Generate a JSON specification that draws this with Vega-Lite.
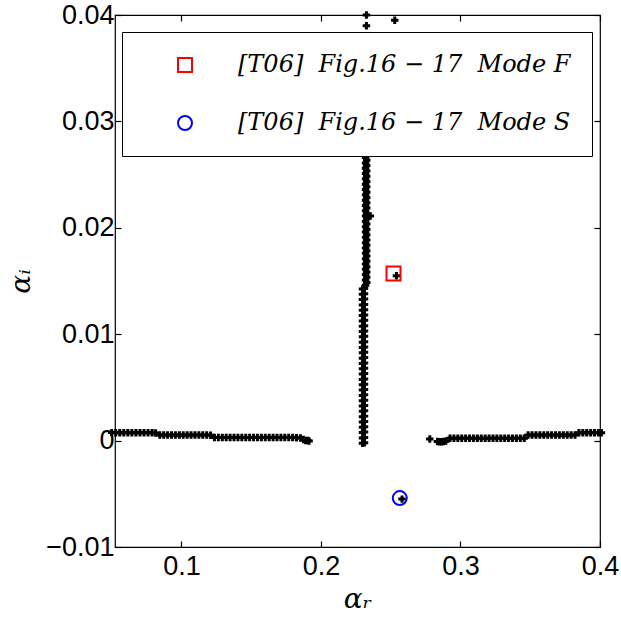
{
  "$schema": "https://vega.github.io/schema/vega-lite/v6.json",
  "width": 485,
  "height": 532,
  "autosize": {"type": "none"},
  "padding": {"left": 115, "top": 15, "right": 21, "bottom": 74},
  "background": "white",
  "config": {
    "view": {"stroke": "black", "strokeWidth": 1.2},
    "axis": {"grid": false, "domain": false, "tickColor": "black", "labelColor": "black", "titleColor": "black"}
  },
  "data": {
    "values": [
      {"ar": 0.0500, "ai": 0.00075, "s": "scan"},
      {"ar": 0.0529, "ai": 0.00073, "s": "scan"},
      {"ar": 0.0558, "ai": 0.00073, "s": "scan"},
      {"ar": 0.0587, "ai": 0.00073, "s": "scan"},
      {"ar": 0.0616, "ai": 0.00073, "s": "scan"},
      {"ar": 0.0645, "ai": 0.00073, "s": "scan"},
      {"ar": 0.0674, "ai": 0.00073, "s": "scan"},
      {"ar": 0.0703, "ai": 0.00073, "s": "scan"},
      {"ar": 0.0732, "ai": 0.00073, "s": "scan"},
      {"ar": 0.0761, "ai": 0.00073, "s": "scan"},
      {"ar": 0.0790, "ai": 0.00073, "s": "scan"},
      {"ar": 0.0815, "ai": 0.00072, "s": "scan"},
      {"ar": 0.0845, "ai": 0.00052, "s": "scan"},
      {"ar": 0.0873, "ai": 0.00052, "s": "scan"},
      {"ar": 0.0901, "ai": 0.00052, "s": "scan"},
      {"ar": 0.0929, "ai": 0.00052, "s": "scan"},
      {"ar": 0.0957, "ai": 0.00052, "s": "scan"},
      {"ar": 0.0985, "ai": 0.00052, "s": "scan"},
      {"ar": 0.1013, "ai": 0.00052, "s": "scan"},
      {"ar": 0.1041, "ai": 0.00052, "s": "scan"},
      {"ar": 0.1069, "ai": 0.00052, "s": "scan"},
      {"ar": 0.1097, "ai": 0.00052, "s": "scan"},
      {"ar": 0.1125, "ai": 0.00052, "s": "scan"},
      {"ar": 0.1153, "ai": 0.00052, "s": "scan"},
      {"ar": 0.1181, "ai": 0.00052, "s": "scan"},
      {"ar": 0.1209, "ai": 0.00051, "s": "scan"},
      {"ar": 0.1237, "ai": 0.00030, "s": "scan"},
      {"ar": 0.1265, "ai": 0.00030, "s": "scan"},
      {"ar": 0.1293, "ai": 0.00030, "s": "scan"},
      {"ar": 0.1321, "ai": 0.00030, "s": "scan"},
      {"ar": 0.1349, "ai": 0.00030, "s": "scan"},
      {"ar": 0.1377, "ai": 0.00030, "s": "scan"},
      {"ar": 0.1405, "ai": 0.00030, "s": "scan"},
      {"ar": 0.1433, "ai": 0.00030, "s": "scan"},
      {"ar": 0.1461, "ai": 0.00030, "s": "scan"},
      {"ar": 0.1489, "ai": 0.00030, "s": "scan"},
      {"ar": 0.1517, "ai": 0.00030, "s": "scan"},
      {"ar": 0.1545, "ai": 0.00030, "s": "scan"},
      {"ar": 0.1573, "ai": 0.00030, "s": "scan"},
      {"ar": 0.1601, "ai": 0.00030, "s": "scan"},
      {"ar": 0.1629, "ai": 0.00030, "s": "scan"},
      {"ar": 0.1657, "ai": 0.00030, "s": "scan"},
      {"ar": 0.1685, "ai": 0.00030, "s": "scan"},
      {"ar": 0.1713, "ai": 0.00030, "s": "scan"},
      {"ar": 0.1741, "ai": 0.00030, "s": "scan"},
      {"ar": 0.1769, "ai": 0.00029, "s": "scan"},
      {"ar": 0.1797, "ai": 0.00029, "s": "scan"},
      {"ar": 0.1825, "ai": 0.00027, "s": "scan"},
      {"ar": 0.1853, "ai": 0.00025, "s": "scan"},
      {"ar": 0.1875, "ai": 0.00010, "s": "scan"},
      {"ar": 0.1890, "ai": 0.00002, "s": "scan"},
      {"ar": 0.1905, "ai": 0.00000, "s": "scan"},
      {"ar": 0.1915, "ai": -0.00003, "s": "scan"},
      {"ar": 0.2780, "ai": 0.00014, "s": "scan"},
      {"ar": 0.2835, "ai": -0.00008, "s": "scan"},
      {"ar": 0.2850, "ai": -0.00010, "s": "scan"},
      {"ar": 0.2865, "ai": -0.00010, "s": "scan"},
      {"ar": 0.2880, "ai": -0.00009, "s": "scan"},
      {"ar": 0.2895, "ai": -0.00005, "s": "scan"},
      {"ar": 0.2925, "ai": 0.00021, "s": "scan"},
      {"ar": 0.2953, "ai": 0.00021, "s": "scan"},
      {"ar": 0.2981, "ai": 0.00021, "s": "scan"},
      {"ar": 0.3009, "ai": 0.00021, "s": "scan"},
      {"ar": 0.3037, "ai": 0.00021, "s": "scan"},
      {"ar": 0.3065, "ai": 0.00021, "s": "scan"},
      {"ar": 0.3093, "ai": 0.00021, "s": "scan"},
      {"ar": 0.3121, "ai": 0.00021, "s": "scan"},
      {"ar": 0.3149, "ai": 0.00021, "s": "scan"},
      {"ar": 0.3177, "ai": 0.00021, "s": "scan"},
      {"ar": 0.3205, "ai": 0.00021, "s": "scan"},
      {"ar": 0.3233, "ai": 0.00021, "s": "scan"},
      {"ar": 0.3261, "ai": 0.00021, "s": "scan"},
      {"ar": 0.3289, "ai": 0.00021, "s": "scan"},
      {"ar": 0.3317, "ai": 0.00021, "s": "scan"},
      {"ar": 0.3345, "ai": 0.00021, "s": "scan"},
      {"ar": 0.3373, "ai": 0.00021, "s": "scan"},
      {"ar": 0.3401, "ai": 0.00021, "s": "scan"},
      {"ar": 0.3429, "ai": 0.00021, "s": "scan"},
      {"ar": 0.3457, "ai": 0.00022, "s": "scan"},
      {"ar": 0.3485, "ai": 0.00052, "s": "scan"},
      {"ar": 0.3513, "ai": 0.00052, "s": "scan"},
      {"ar": 0.3541, "ai": 0.00052, "s": "scan"},
      {"ar": 0.3569, "ai": 0.00052, "s": "scan"},
      {"ar": 0.3597, "ai": 0.00052, "s": "scan"},
      {"ar": 0.3625, "ai": 0.00052, "s": "scan"},
      {"ar": 0.3653, "ai": 0.00052, "s": "scan"},
      {"ar": 0.3681, "ai": 0.00052, "s": "scan"},
      {"ar": 0.3709, "ai": 0.00052, "s": "scan"},
      {"ar": 0.3737, "ai": 0.00052, "s": "scan"},
      {"ar": 0.3765, "ai": 0.00052, "s": "scan"},
      {"ar": 0.3793, "ai": 0.00052, "s": "scan"},
      {"ar": 0.3821, "ai": 0.00053, "s": "scan"},
      {"ar": 0.3849, "ai": 0.00073, "s": "scan"},
      {"ar": 0.3877, "ai": 0.00073, "s": "scan"},
      {"ar": 0.3905, "ai": 0.00073, "s": "scan"},
      {"ar": 0.3933, "ai": 0.00073, "s": "scan"},
      {"ar": 0.3961, "ai": 0.00073, "s": "scan"},
      {"ar": 0.3989, "ai": 0.00073, "s": "scan"},
      {"ar": 0.4010, "ai": 0.00074, "s": "scan"},
      {"ar": 0.2298, "ai": -0.00025, "s": "scan"},
      {"ar": 0.2298, "ai": 0.00025, "s": "scan"},
      {"ar": 0.2298, "ai": 0.00075, "s": "scan"},
      {"ar": 0.2298, "ai": 0.00125, "s": "scan"},
      {"ar": 0.2298, "ai": 0.00175, "s": "scan"},
      {"ar": 0.2298, "ai": 0.00225, "s": "scan"},
      {"ar": 0.2298, "ai": 0.00275, "s": "scan"},
      {"ar": 0.2298, "ai": 0.00325, "s": "scan"},
      {"ar": 0.2298, "ai": 0.00375, "s": "scan"},
      {"ar": 0.2298, "ai": 0.00425, "s": "scan"},
      {"ar": 0.2298, "ai": 0.00475, "s": "scan"},
      {"ar": 0.2298, "ai": 0.00525, "s": "scan"},
      {"ar": 0.2298, "ai": 0.00575, "s": "scan"},
      {"ar": 0.2298, "ai": 0.00625, "s": "scan"},
      {"ar": 0.2298, "ai": 0.00675, "s": "scan"},
      {"ar": 0.2298, "ai": 0.00725, "s": "scan"},
      {"ar": 0.2298, "ai": 0.00775, "s": "scan"},
      {"ar": 0.2298, "ai": 0.00825, "s": "scan"},
      {"ar": 0.2298, "ai": 0.00875, "s": "scan"},
      {"ar": 0.2298, "ai": 0.00925, "s": "scan"},
      {"ar": 0.2298, "ai": 0.00975, "s": "scan"},
      {"ar": 0.2298, "ai": 0.01025, "s": "scan"},
      {"ar": 0.2298, "ai": 0.01075, "s": "scan"},
      {"ar": 0.2298, "ai": 0.01125, "s": "scan"},
      {"ar": 0.2298, "ai": 0.01175, "s": "scan"},
      {"ar": 0.2298, "ai": 0.01225, "s": "scan"},
      {"ar": 0.2298, "ai": 0.01275, "s": "scan"},
      {"ar": 0.2298, "ai": 0.01325, "s": "scan"},
      {"ar": 0.2298, "ai": 0.01375, "s": "scan"},
      {"ar": 0.2298, "ai": 0.01425, "s": "scan"},
      {"ar": 0.2312, "ai": -0.00020, "s": "scan"},
      {"ar": 0.2312, "ai": 0.00030, "s": "scan"},
      {"ar": 0.2312, "ai": 0.00080, "s": "scan"},
      {"ar": 0.2312, "ai": 0.00130, "s": "scan"},
      {"ar": 0.2312, "ai": 0.00180, "s": "scan"},
      {"ar": 0.2312, "ai": 0.00230, "s": "scan"},
      {"ar": 0.2312, "ai": 0.00280, "s": "scan"},
      {"ar": 0.2312, "ai": 0.00330, "s": "scan"},
      {"ar": 0.2312, "ai": 0.00380, "s": "scan"},
      {"ar": 0.2312, "ai": 0.00430, "s": "scan"},
      {"ar": 0.2312, "ai": 0.00480, "s": "scan"},
      {"ar": 0.2312, "ai": 0.00530, "s": "scan"},
      {"ar": 0.2312, "ai": 0.00580, "s": "scan"},
      {"ar": 0.2312, "ai": 0.00630, "s": "scan"},
      {"ar": 0.2312, "ai": 0.00680, "s": "scan"},
      {"ar": 0.2312, "ai": 0.00730, "s": "scan"},
      {"ar": 0.2312, "ai": 0.00780, "s": "scan"},
      {"ar": 0.2312, "ai": 0.00830, "s": "scan"},
      {"ar": 0.2312, "ai": 0.00880, "s": "scan"},
      {"ar": 0.2312, "ai": 0.00930, "s": "scan"},
      {"ar": 0.2312, "ai": 0.00980, "s": "scan"},
      {"ar": 0.2312, "ai": 0.01030, "s": "scan"},
      {"ar": 0.2312, "ai": 0.01080, "s": "scan"},
      {"ar": 0.2312, "ai": 0.01130, "s": "scan"},
      {"ar": 0.2312, "ai": 0.01180, "s": "scan"},
      {"ar": 0.2312, "ai": 0.01230, "s": "scan"},
      {"ar": 0.2312, "ai": 0.01280, "s": "scan"},
      {"ar": 0.2312, "ai": 0.01330, "s": "scan"},
      {"ar": 0.2312, "ai": 0.01380, "s": "scan"},
      {"ar": 0.2312, "ai": 0.01430, "s": "scan"},
      {"ar": 0.2320, "ai": 0.0146, "s": "scan"},
      {"ar": 0.2320, "ai": 0.0151, "s": "scan"},
      {"ar": 0.2320, "ai": 0.0156, "s": "scan"},
      {"ar": 0.2320, "ai": 0.0161, "s": "scan"},
      {"ar": 0.2320, "ai": 0.0166, "s": "scan"},
      {"ar": 0.2320, "ai": 0.0171, "s": "scan"},
      {"ar": 0.2320, "ai": 0.0176, "s": "scan"},
      {"ar": 0.2320, "ai": 0.0181, "s": "scan"},
      {"ar": 0.2320, "ai": 0.0186, "s": "scan"},
      {"ar": 0.2320, "ai": 0.0191, "s": "scan"},
      {"ar": 0.2320, "ai": 0.0196, "s": "scan"},
      {"ar": 0.2320, "ai": 0.0201, "s": "scan"},
      {"ar": 0.2320, "ai": 0.0206, "s": "scan"},
      {"ar": 0.2320, "ai": 0.0211, "s": "scan"},
      {"ar": 0.2320, "ai": 0.0216, "s": "scan"},
      {"ar": 0.2320, "ai": 0.0221, "s": "scan"},
      {"ar": 0.2320, "ai": 0.0226, "s": "scan"},
      {"ar": 0.2320, "ai": 0.0231, "s": "scan"},
      {"ar": 0.2320, "ai": 0.0236, "s": "scan"},
      {"ar": 0.2320, "ai": 0.0241, "s": "scan"},
      {"ar": 0.2320, "ai": 0.0246, "s": "scan"},
      {"ar": 0.2320, "ai": 0.0251, "s": "scan"},
      {"ar": 0.2320, "ai": 0.0256, "s": "scan"},
      {"ar": 0.2320, "ai": 0.0261, "s": "scan"},
      {"ar": 0.2320, "ai": 0.0266, "s": "scan"},
      {"ar": 0.2320, "ai": 0.0271, "s": "scan"},
      {"ar": 0.2320, "ai": 0.0276, "s": "scan"},
      {"ar": 0.2328, "ai": 0.01485, "s": "scan"},
      {"ar": 0.2328, "ai": 0.01535, "s": "scan"},
      {"ar": 0.2328, "ai": 0.01585, "s": "scan"},
      {"ar": 0.2328, "ai": 0.01635, "s": "scan"},
      {"ar": 0.2328, "ai": 0.01685, "s": "scan"},
      {"ar": 0.2328, "ai": 0.01735, "s": "scan"},
      {"ar": 0.2328, "ai": 0.01785, "s": "scan"},
      {"ar": 0.2328, "ai": 0.01835, "s": "scan"},
      {"ar": 0.2328, "ai": 0.01885, "s": "scan"},
      {"ar": 0.2328, "ai": 0.01935, "s": "scan"},
      {"ar": 0.2328, "ai": 0.01985, "s": "scan"},
      {"ar": 0.2328, "ai": 0.02035, "s": "scan"},
      {"ar": 0.2328, "ai": 0.02085, "s": "scan"},
      {"ar": 0.2328, "ai": 0.02135, "s": "scan"},
      {"ar": 0.2328, "ai": 0.02185, "s": "scan"},
      {"ar": 0.2328, "ai": 0.02235, "s": "scan"},
      {"ar": 0.2328, "ai": 0.02285, "s": "scan"},
      {"ar": 0.2328, "ai": 0.02335, "s": "scan"},
      {"ar": 0.2328, "ai": 0.02385, "s": "scan"},
      {"ar": 0.2328, "ai": 0.02435, "s": "scan"},
      {"ar": 0.2328, "ai": 0.02485, "s": "scan"},
      {"ar": 0.2328, "ai": 0.02535, "s": "scan"},
      {"ar": 0.2328, "ai": 0.02585, "s": "scan"},
      {"ar": 0.2328, "ai": 0.02635, "s": "scan"},
      {"ar": 0.2328, "ai": 0.02685, "s": "scan"},
      {"ar": 0.2328, "ai": 0.02735, "s": "scan"},
      {"ar": 0.2354, "ai": 0.0211, "s": "scan"},
      {"ar": 0.2326, "ai": 0.0400, "s": "scan"},
      {"ar": 0.2326, "ai": 0.0390, "s": "scan"},
      {"ar": 0.2529, "ai": 0.0395, "s": "scan"},
      {"ar": 0.2541, "ai": 0.0155, "s": "scan"},
      {"ar": 0.2581, "ai": -0.0055, "s": "scan"},
      {"ar": 0.2520, "ai": 0.0157, "s": "[T06]\u00a0\u00a0Fig.16\u00a0−\u00a017\u00a0\u00a0Mode\u00a0F\u00a0"},
      {"ar": 0.2565, "ai": -0.0054, "s": "[T06]\u00a0\u00a0Fig.16\u00a0−\u00a017\u00a0\u00a0Mode\u00a0S\u00a0"}
    ]
  },
  "layer": [
    {
      "transform": [{"filter": "datum.s == 'scan'"}],
      "mark": {"type": "point", "shape": "cross", "filled": true, "color": "black", "size": 56, "opacity": 1},
      "encoding": {
        "x": {
          "field": "ar", "type": "quantitative",
          "scale": {"domain": [0.0524, 0.4], "nice": false, "zero": false},
          "axis": {
            "orient": "bottom", "values": [0.1, 0.2, 0.3, 0.4], "format": ".1f",
            "labelFont": "Liberation Sans", "labelFontSize": 27, "labelFlush": false, "labelOverlap": false,
            "tickSize": -6, "tickWidth": 1.2, "labelPadding": 12,
            "title": "αᵣ", "titleFont": "DejaVu Serif", "titleFontStyle": "italic", "titleFontWeight": "normal",
            "titleFontSize": 28, "titlePadding": 6
          }
        },
        "y": {
          "field": "ai", "type": "quantitative",
          "scale": {"domain": [-0.01, 0.04], "nice": false, "zero": false},
          "axis": {
            "orient": "left", "values": [-0.01, 0, 0.01, 0.02, 0.03, 0.04], "format": ".2~f",
            "labelFont": "Liberation Sans", "labelFontSize": 27, "labelFlush": false, "labelOverlap": false,
            "tickSize": -6, "tickWidth": 1.2, "labelPadding": 7,
            "title": "αᵢ", "titleFont": "DejaVu Serif", "titleFontStyle": "italic", "titleFontWeight": "normal",
            "titleFontSize": 28, "titlePadding": 10
          }
        }
      }
    },
    {
      "transform": [{"filter": "datum.s == 'scan'"}],
      "mark": {"type": "point", "opacity": 0},
      "encoding": {
        "x": {
          "field": "ar", "type": "quantitative",
          "axis": {"orient": "top", "values": [0.1, 0.2, 0.3, 0.4], "labels": false, "tickSize": -6, "tickWidth": 1.2, "title": null}
        },
        "y": {
          "field": "ai", "type": "quantitative",
          "axis": {"orient": "right", "values": [-0.01, 0, 0.01, 0.02, 0.03, 0.04], "labels": false, "tickSize": -6, "tickWidth": 1.2, "title": null}
        }
      }
    },
    {
      "transform": [{"filter": "datum.s != 'scan'"}],
      "mark": {"type": "point", "filled": false, "strokeWidth": 2, "size": 196, "opacity": 1},
      "encoding": {
        "x": {"field": "ar", "type": "quantitative", "axis": null},
        "y": {"field": "ai", "type": "quantitative", "axis": null},
        "color": {
          "field": "s", "type": "nominal",
          "scale": {"domain": ["[T06]\u00a0\u00a0Fig.16\u00a0−\u00a017\u00a0\u00a0Mode\u00a0F\u00a0", "[T06]\u00a0\u00a0Fig.16\u00a0−\u00a017\u00a0\u00a0Mode\u00a0S\u00a0"], "range": ["#ff0000", "#0000ff"]},
          "legend": {
            "orient": "none", "legendX": 7, "legendY": 17, "title": null,
            "padding": 21, "symbolOffset": 30, "labelOffset": 41, "rowPadding": 34,
            "labelFont": "DejaVu Serif", "labelFontStyle": "italic", "labelFontSize": 24, "labelLimit": 600,
            "labelColor": "black", "strokeColor": "black", "fillColor": "white",
            "symbolStrokeWidth": 2, "symbolSize": 196
          }
        },
        "shape": {
          "field": "s", "type": "nominal",
          "scale": {"domain": ["[T06]\u00a0\u00a0Fig.16\u00a0−\u00a017\u00a0\u00a0Mode\u00a0F\u00a0", "[T06]\u00a0\u00a0Fig.16\u00a0−\u00a017\u00a0\u00a0Mode\u00a0S\u00a0"], "range": ["square", "circle"]}
        }
      }
    }
  ],
  "resolve": {"axis": {"x": "independent", "y": "independent"}}
}
